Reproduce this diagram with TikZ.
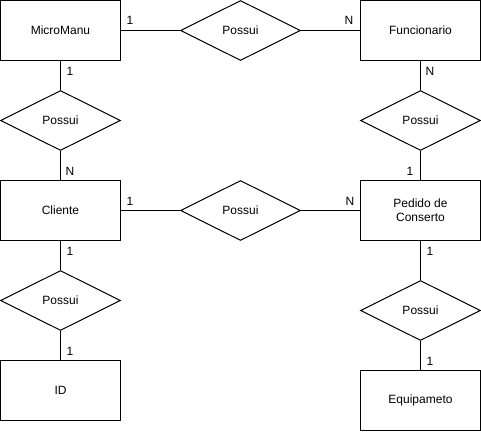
\documentclass[tikz,border=0pt]{standalone}
\usepackage{fontspec}
\setmainfont{Liberation Sans}
\usetikzlibrary{shapes.geometric}
\begin{document}
\begin{tikzpicture}[x=1pt,y=-1pt,line width=1pt,
  entity/.style={draw,rectangle,minimum width=120pt,minimum height=60pt,inner sep=0pt,font=\fontsize{12}{14}\selectfont,align=center},
  relation/.style={draw,diamond,minimum width=120pt,minimum height=60pt,inner sep=0pt,font=\fontsize{12}{14}\selectfont},
  card/.style={inner sep=0pt,font=\fontsize{12}{14}\selectfont}]
  \useasboundingbox (0,0) rectangle (481,431);
  % entidades
  \node[entity] (micro) at (60.5,30.5) {MicroManu};
  \node[entity] (func) at (420.5,30.5) {Funcionario};
  \node[entity] (cli) at (60.5,210.5) {Cliente};
  \node[entity] (ped) at (420.5,210.5) {Pedido de\\Conserto};
  \node[entity] (id) at (60.5,390.5) {ID};
  \node[entity] (equip) at (420.5,400.5) {Equipameto};
  % relacionamentos
  \node[relation] (r1) at (240.5,30.5) {Possui};
  \node[relation] (r2) at (60.5,120.5) {Possui};
  \node[relation] (r3) at (420.5,120.5) {Possui};
  \node[relation] (r4) at (240.5,210.5) {Possui};
  \node[relation] (r5) at (60.5,300.5) {Possui};
  \node[relation] (r6) at (420.5,310.5) {Possui};
  % ligacoes
  \draw (micro) -- (r1) -- (func);
  \draw (micro) -- (r2) -- (cli);
  \draw (func) -- (r3) -- (ped);
  \draw (cli) -- (r4) -- (ped);
  \draw (cli) -- (r5) -- (id);
  \draw (ped) -- (r6) -- (equip);
  % cardinalidades
  \node[card] (c1) at (130,20) {1};
  \node[card] (c2) at (349,20) {N};
  \node[card] (c3) at (70,71) {1};
  \node[card] (c4) at (70,171) {N};
  \node[card] (c5) at (430,71) {N};
  \node[card] (c6) at (410,171) {1};
  \node[card] (c7) at (130,201) {1};
  \node[card] (c8) at (350,201) {N};
  \node[card] (c9) at (70,251) {1};
  \node[card] (c10) at (70,351) {1};
  \node[card] (c11) at (430,251) {1};
  \node[card] (c12) at (430,361) {1};
\end{tikzpicture}
\end{document}
